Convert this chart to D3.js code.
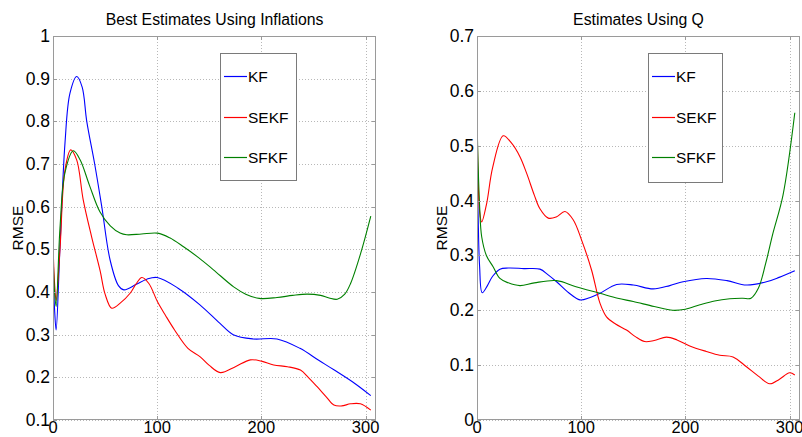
<!DOCTYPE html>
<html><head><meta charset="utf-8">
<script src="https://cdn.jsdelivr.net/npm/d3@7"></script>
<style>
html,body{margin:0;padding:0;background:#fff;}
svg{display:block;font-family:"Liberation Sans",Arial,sans-serif;}
</style></head>
<body>
<svg id="c" width="802" height="437"></svg>
<script>
// ---------- data ----------
const seriesNames = ["KF", "SEKF", "SFKF"];
const seriesColors = ["#0000ff", "#ff0000", "#008000"];

const leftTitle = "Best Estimates Using Inflations";
const rightTitle = "Estimates Using Q";
const yLabel = "RMSE";
const xTicks = [0, 100, 200, 300];
const leftYTicks = [0.1, 0.2, 0.3, 0.4, 0.5, 0.6, 0.7, 0.8, 0.9, 1];
const rightYTicks = [0, 0.1, 0.2, 0.3, 0.4, 0.5, 0.6, 0.7];

// Left panel
const leftKF_x = [0, 1.5, 3, 6.7, 11.5, 16.3, 22.8, 28, 32.4, 40, 46.8, 54.8, 62.8, 68, 80, 90, 100, 120, 141, 160, 173, 192, 215, 237, 255, 270, 290, 305];
const leftKF_y = [0.45, 0.36, 0.311, 0.506, 0.749, 0.866, 0.905, 0.88, 0.8, 0.70, 0.6, 0.475, 0.415, 0.405, 0.418, 0.43, 0.434, 0.409, 0.37, 0.327, 0.3, 0.29, 0.29, 0.268, 0.24, 0.217, 0.185, 0.157];

const leftSEKF_x = [0, 1.5, 3, 6.7, 11.5, 17, 22.8, 29, 37, 45.2, 50, 56.4, 65, 74, 80, 85.3, 92, 100.3, 108, 116.7, 129.5, 141.3, 150, 160.6, 175, 189.4, 200, 211.8, 225, 237.5, 245, 253.5, 262, 269.6, 277, 285.6, 295, 305];
const leftSEKF_y = [0.51, 0.42, 0.38, 0.5, 0.686, 0.733, 0.709, 0.616, 0.53, 0.45, 0.395, 0.362, 0.375, 0.397, 0.42, 0.434, 0.42, 0.377, 0.345, 0.311, 0.268, 0.248, 0.228, 0.211, 0.225, 0.241, 0.238, 0.229, 0.225, 0.217, 0.2, 0.178, 0.155, 0.135, 0.133, 0.138, 0.138, 0.123];

const leftSFKF_x = [0, 1.5, 3, 6.7, 11.5, 19.5, 26, 35, 45, 55, 64.4, 70.8, 85, 100.3, 112, 125.3, 140, 154, 173.4, 185, 198, 215, 230, 244, 256.8, 265, 272.8, 280, 285.6, 295.2, 305];
const leftSFKF_y = [0.5, 0.4, 0.366, 0.55, 0.68, 0.731, 0.71, 0.65, 0.588, 0.555, 0.538, 0.534, 0.536, 0.538, 0.527, 0.506, 0.48, 0.452, 0.412, 0.395, 0.385, 0.387, 0.392, 0.395, 0.392, 0.386, 0.383, 0.395, 0.42, 0.49, 0.578];

// Right panel
const rightKF_x = [0, 1, 2.5, 5, 10, 15, 22, 30, 45, 60.4, 68, 76.4, 88, 98.8, 108, 118, 134, 150, 169, 185, 197.8, 220, 240, 258.6, 277.8, 290, 305];
const rightKF_y = [0.46, 0.38, 0.28, 0.232, 0.245, 0.262, 0.275, 0.277, 0.276, 0.275, 0.265, 0.252, 0.232, 0.219, 0.223, 0.231, 0.247, 0.246, 0.239, 0.245, 0.252, 0.258, 0.254, 0.246, 0.252, 0.26, 0.272];

const rightSEKF_x = [0, 1, 2.5, 4.5, 9.3, 15, 25.2, 33, 41.2, 47.6, 55, 60.4, 68.4, 76, 84.4, 92.3, 100.4, 110, 118, 124.3, 133, 143.5, 152, 161, 170, 181.9, 192, 204.2, 220, 233, 245.7, 258.6, 270, 281, 290, 300, 305];
const rightSEKF_y = [0.565, 0.45, 0.38, 0.361, 0.395, 0.46, 0.518, 0.505, 0.48, 0.45, 0.41, 0.385, 0.368, 0.37, 0.38, 0.365, 0.328, 0.273, 0.213, 0.188, 0.175, 0.164, 0.152, 0.143, 0.145, 0.151, 0.146, 0.135, 0.125, 0.118, 0.115, 0.097, 0.08, 0.066, 0.074, 0.086, 0.082];

const rightSFKF_x = [0, 1, 2.5, 4.5, 9, 15.6, 22, 30, 41.2, 55, 76.4, 95, 118, 135, 150, 170, 188, 200, 214, 228, 242.6, 255, 263, 270, 277, 284, 293.7, 305];
const rightSFKF_y = [0.55, 0.47, 0.39, 0.334, 0.3, 0.279, 0.258, 0.25, 0.245, 0.25, 0.254, 0.243, 0.231, 0.222, 0.216, 0.207, 0.2, 0.202, 0.21, 0.217, 0.221, 0.222, 0.222, 0.24, 0.285, 0.34, 0.41, 0.56];

// ---------- drawing ----------
const svg = d3.select("#c");
const zip = (xs, ys) => xs.map((x, i) => [x, ys[i]]);

const panels = [
  { id: "L", title: leftTitle, left: 53, right: 376, top: 36, bottom: 420, yDomain: [0.1, 1], yTicks: leftYTicks,
    series: [zip(leftKF_x, leftKF_y), zip(leftSEKF_x, leftSEKF_y), zip(leftSFKF_x, leftSFKF_y)],
    legend: { x: 220, y: 53, w: 76, h: 127 }, ylabX: 17 },
  { id: "R", title: rightTitle, left: 477, right: 800, top: 36, bottom: 420, yDomain: [0, 0.7], yTicks: rightYTicks,
    series: [zip(rightKF_x, rightKF_y), zip(rightSEKF_x, rightSEKF_y), zip(rightSFKF_x, rightSFKF_y)],
    legend: { x: 648, y: 53, w: 74, h: 129 }, ylabX: 441 }
];

const fmt = v => (Math.round(v * 10) / 10).toString();

panels.forEach(p => {
  const x = d3.scaleLinear().domain([0, 310]).range([p.left, p.right]);
  const y = d3.scaleLinear().domain(p.yDomain).range([p.bottom, p.top]);
  const g = svg.append("g");

  // grid
  g.selectAll(".gx").data(xTicks).enter().append("line")
    .attr("x1", d => Math.round(x(d)) + 0.5).attr("x2", d => Math.round(x(d)) + 0.5)
    .attr("y1", p.top).attr("y2", p.bottom)
    .attr("stroke", "#b8b8b8").attr("stroke-width", 1).attr("stroke-dasharray", "1,2");
  g.selectAll(".gy").data(p.yTicks).enter().append("line")
    .attr("x1", p.left).attr("x2", p.right)
    .attr("y1", d => Math.round(y(d)) + 0.5).attr("y2", d => Math.round(y(d)) + 0.5)
    .attr("stroke", "#b8b8b8").attr("stroke-width", 1).attr("stroke-dasharray", "1,2");

  // clip
  svg.append("clipPath").attr("id", "clip" + p.id).append("rect")
    .attr("x", p.left).attr("y", p.top).attr("width", p.right - p.left).attr("height", p.bottom - p.top);

  const line = d3.line().x(d => x(d[0])).y(d => y(d[1])).curve(d3.curveCatmullRom.alpha(0.5));
  p.series.forEach((s, i) => {
    g.append("path").attr("d", line(s)).attr("fill", "none")
      .attr("stroke", seriesColors[i]).attr("stroke-width", 1.1)
      .attr("clip-path", "url(#clip" + p.id + ")");
  });

  // axes box
  g.append("rect").attr("x", p.left + 0.5).attr("y", p.top + 0.5)
    .attr("width", p.right - p.left - 1).attr("height", p.bottom - p.top - 1)
    .attr("fill", "none").attr("stroke", "#9a9a9a").attr("stroke-width", 1);

  // ticks inside
  const tl = 4;
  xTicks.forEach(t => {
    const xx = Math.round(x(t)) + 0.5;
    g.append("line").attr("x1", xx).attr("x2", xx).attr("y1", p.bottom).attr("y2", p.bottom - tl).attr("stroke", "#9a9a9a");
    g.append("line").attr("x1", xx).attr("x2", xx).attr("y1", p.top).attr("y2", p.top + tl).attr("stroke", "#9a9a9a");
  });
  p.yTicks.forEach(t => {
    const yy = Math.round(y(t)) + 0.5;
    g.append("line").attr("x1", p.left).attr("x2", p.left + tl).attr("y1", yy).attr("y2", yy).attr("stroke", "#9a9a9a");
    g.append("line").attr("x1", p.right).attr("x2", p.right - tl).attr("y1", yy).attr("y2", yy).attr("stroke", "#9a9a9a");
  });

  // tick labels
  g.selectAll(".yl").data(p.yTicks).enter().append("text")
    .attr("x", p.left - 3).attr("y", d => y(d) + 6)
    .attr("text-anchor", "end").attr("font-size", 17.5).attr("fill", "#000")
    .text(d => fmt(d));
  g.selectAll(".xl").data(xTicks).enter().append("text")
    .attr("x", d => x(d)).attr("y", 433)
    .attr("text-anchor", "middle").attr("font-size", 16.5).attr("fill", "#000")
    .text(d => d);

  // title
  g.append("text").attr("x", (p.left + p.right) / 2).attr("y", 24.5)
    .attr("text-anchor", "middle").attr("font-size", 15.8).text(p.title);

  // y label
  g.append("text").attr("transform", `translate(${p.ylabX + 5.5},${(p.top + p.bottom) / 2}) rotate(-90)`)
    .attr("text-anchor", "middle").attr("font-size", 15.5).text(yLabel);

  // legend
  const L = p.legend;
  g.append("rect").attr("x", L.x + 0.5).attr("y", L.y + 0.5).attr("width", L.w).attr("height", L.h)
    .attr("fill", "#fff").attr("stroke", "#7a7a7a").attr("stroke-width", 1);
  const rowY = [76, 117, 157];
  seriesNames.forEach((n, i) => {
    g.append("line").attr("x1", L.x + 4).attr("x2", L.x + 27).attr("y1", rowY[i] + 0.5).attr("y2", rowY[i] + 0.5)
      .attr("stroke", seriesColors[i]).attr("stroke-width", 1.2);
    g.append("text").attr("x", L.x + 28).attr("y", rowY[i] + 5.5).attr("font-size", 15.5).text(n);
  });
});
</script>
</body></html>
